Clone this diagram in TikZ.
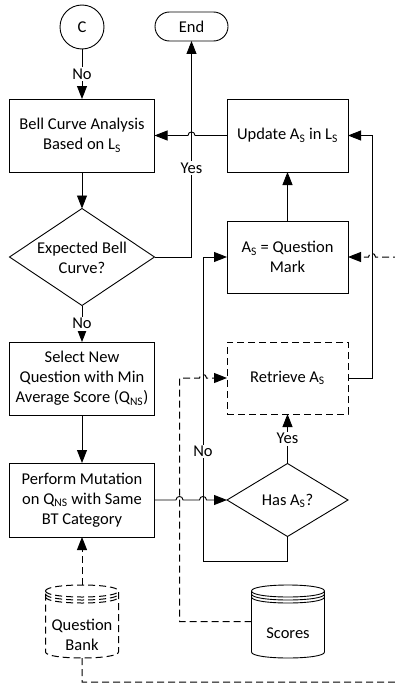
\documentclass[tikz,border=0pt]{standalone}
\usepackage{fontspec}
\setmainfont{Carlito}
\usetikzlibrary{shapes.geometric,arrows.meta}
\newcommand{\subs}[1]{\textsubscript{#1}}
% database symbol: #1 style, #2 centre x, #3 top y, #4 bottom y, #5 half width
\newcommand{\drawcyl}[5]{%
  \draw[#1] (#2-#5,#3+6) .. controls (#2-#5,#3-2) and (#2+#5,#3-2) .. (#2+#5,#3+6)
    -- (#2+#5,#4-6) .. controls (#2+#5,#4+2) and (#2-#5,#4+2) .. (#2-#5,#4-6) -- cycle;
  \draw[#1] (#2-#5,#3+6) .. controls (#2-#5,#3+14) and (#2+#5,#3+14) .. (#2+#5,#3+6);
  \draw[#1] (#2-#5,#3+9) .. controls (#2-#5,#3+17) and (#2+#5,#3+17) .. (#2+#5,#3+9);
  \draw[#1] (#2-#5,#3+12) .. controls (#2-#5,#3+20) and (#2+#5,#3+20) .. (#2+#5,#3+12);
}

\begin{document}
\begin{tikzpicture}[x=1pt,y=-1pt,
  font=\fontsize{16.5}{20}\selectfont,
  every node/.style={inner sep=0pt, outer sep=0pt},
  base/.style={line width=0.9pt},
  dashpat/.style={line width=1pt, dash pattern=on 7pt off 4pt},
  proc/.style={base, draw, rectangle, align=center},
  dproc/.style={proc, dashpat},
  decision/.style={base, draw, diamond},
  wide/.style={minimum width=145pt},
  narrow/.style={minimum width=121pt},
  store/.style={minimum width=73pt, minimum height=73pt},
  flow/.style={base, -{Triangle[length=13pt,width=10pt]}},
  lbl/.style={fill=white, inner sep=1.5pt},
]
\useasboundingbox (0,0) rectangle (395,685);

% ---- nodes ----
\node[base, draw, circle, minimum size=44pt] (conn) at (82,27) {C};
\node[base, draw, rectangle, rounded corners=14.5pt, minimum width=73pt, minimum height=29pt] (endt) at (191.5,26.5) {End};

\node[proc, wide, minimum height=73pt] (bell) at (82,135.5) {Bell Curve Analysis\\Based on L\subs{S}};
\node[decision, wide, minimum height=97pt] (dec1) at (82,257) {};
\node[align=center] (dec1txt) at (82,258) {Expected Bell\\Curve?};
\node[proc, wide, minimum height=73pt] (select) at (82,378.5) {Select New\\Question with Min\\Average Score (Q\subs{NS})};
\node[proc, wide, minimum height=74pt] (perform) at (82,500) {Perform Mutation\\on Q\subs{NS} with Same\\BT Category};

\node[proc, narrow, minimum height=73pt] (update) at (287.5,135.5) {Update A\subs{S} in L\subs{S}};
\node[proc, narrow, minimum height=72pt] (qmark) at (287.5,257) {A\subs{S} = Question\\Mark};
\node[dproc, narrow, minimum height=72pt] (retrieve) at (287.5,378) {Retrieve A\subs{S}};
\node[decision, narrow, minimum height=73pt] (has) at (287.5,500) {};
\node (hastxt) at (287.5,501) {Has A\subs{S}?};

% databases
\node[store] (qbank) at (82,621.5) {};
\drawcyl{dashpat}{82}{585}{658}{36.5}
\node[align=center] (qbanktxt) at (82,634.5) {Question\\Bank};
\node[store] (scores) at (288,621.5) {};
\drawcyl{base}{288}{585}{658}{36.5}
\node (scorestxt) at (288,633) {Scores};

% ---- connectors ----
\draw[flow] (conn.south) -- node[lbl] (no1) {No} (bell.north);
\draw[flow] (bell.south) -- (dec1.north);
\draw[flow] (dec1.south) -- node[lbl] (no2) {No} (select.north);
\draw[flow] (select.south) -- (perform.north);

\draw[flow] (dec1.east) -| node[lbl, pos=0.706] (yes1) {Yes} (endt.south);
\draw[flow] (update.west) -- (195,135.5)
  .. controls (195,130.8) and (188,130.8) .. (188,135.5) -- (bell.east);

\draw[flow] (qmark.north) -- (update.south);
\draw[flow] (retrieve.east) -- (372,378) |- (update.east);
\draw[flow] (has.north) -- node[lbl] (yes2) {Yes} (retrieve.south);
\draw[flow] (has.south) |- (203,561) -- node[lbl, pos=0.36] (no3) {No} (203,257) -- (qmark.west);

\draw[flow] (perform.east) -- (176,500)
  .. controls (176,495.3) and (183,495.3) .. (183,500) -- (199.5,500)
  .. controls (199.5,495.3) and (206.5,495.3) .. (206.5,500) -- (has.west);

% data links
\draw[flow, dashpat] (qbank.north) -- (perform.south);
\draw[flow, dashpat] (qbank.south) -- (82,682) -- (396,682) -- (396,257) -- (375.5,257)
  .. controls (375.5,252.3) and (368.5,252.3) .. (368.5,257) -- (qmark.east);
\draw[flow, dashpat] (scores.west) -- (179.5,621.5) -- (179.5,378) -- (199.5,378)
  .. controls (199.5,373.3) and (206.5,373.3) .. (206.5,378) -- (retrieve.west);
\end{tikzpicture}
\end{document}
